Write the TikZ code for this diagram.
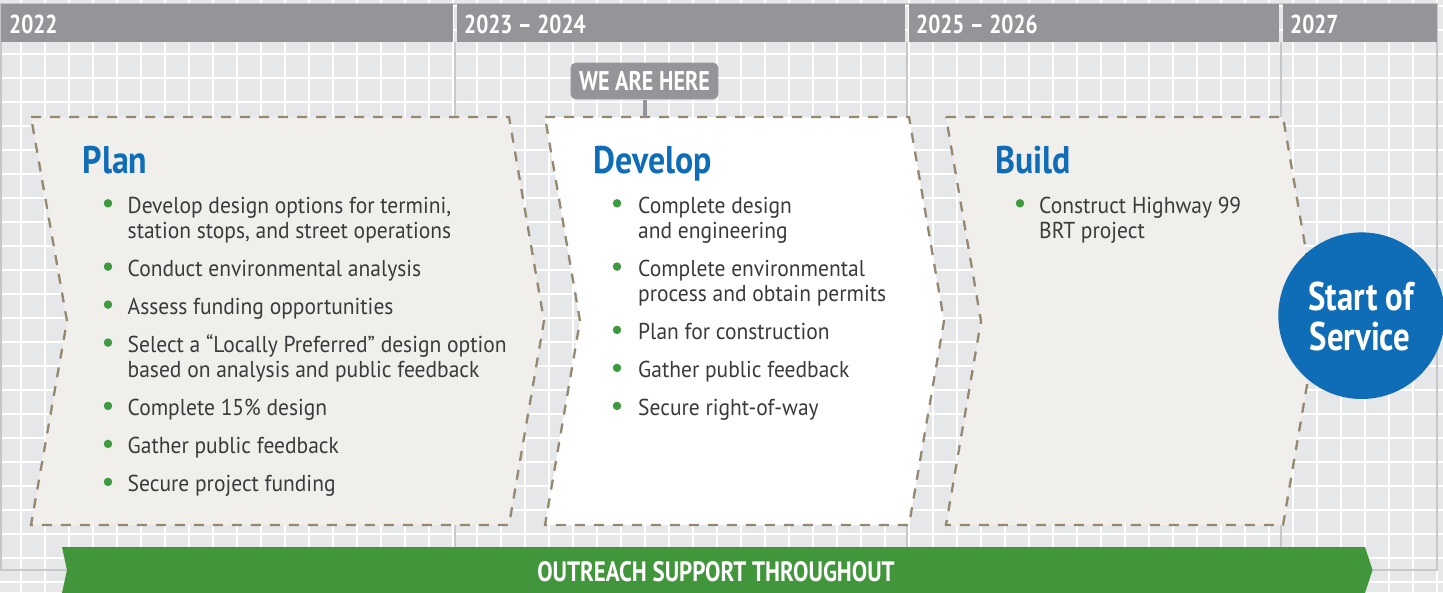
\documentclass[tikz,border=0pt]{standalone}
\usepackage{fontspec}
\setmainfont{PT Sans}[FakeStretch=0.935]
\newfontfamily\cond{PT Sans}[FakeStretch=0.82]
\newfontfamily\condt{PT Sans}[FakeStretch=0.88]
\definecolor{bg}{HTML}{E6E7E8}
\definecolor{hdr}{HTML}{939598}
\definecolor{frm}{HTML}{C6C7C9}
\definecolor{dashc}{HTML}{948872}
\definecolor{boxfill}{HTML}{F0EFEC}
\definecolor{blu}{HTML}{0F6DB7}
\definecolor{grn}{HTML}{41963B}
\definecolor{txt}{HTML}{3A3A3A}
\definecolor{bul}{HTML}{3E9A40}
\tikzset{
  hdrtxt/.style={anchor=base west, inner sep=0, text=white, font=\cond\bfseries\fontsize{26}{28}\selectfont},
  ttl/.style={anchor=base west, inner sep=0, text=blu, font=\condt\bfseries\fontsize{38.5}{40}\selectfont},
  item/.style={anchor=base west, inner sep=0, text=txt, font=\fontsize{23}{25}\selectfont},
  bulletdot/.style={circle, fill=bul, inner sep=0, minimum size=8.5pt},
  chev/.style={draw=dashc, line width=2.3pt, dash pattern=on 10pt off 9pt},
  thin/.style={white, line width=1.6pt},
  thick/.style={white, line width=2.6pt},
  frame/.style={frm, line width=2pt},
  bigtxt/.style={anchor=base, inner sep=0, text=white, font=\cond\bfseries\fontsize{40}{42}\selectfont},
}
\begin{document}
\begin{tikzpicture}[x=1pt,y=-1pt]
\useasboundingbox (0,0) rectangle (1443,592);
% background grid
\fill[bg] (0,0) rectangle (1443,592);
\foreach \i in {0,...,59} \draw[thin] ({21+24*\i},0) -- ({21+24*\i},592);
\foreach \j in {0,...,24} \draw[thin] (0,{6+24*\j}) -- (1443,{6+24*\j});
\foreach \i in {0,...,7} \draw[thick] ({45+192*\i},0) -- ({45+192*\i},592);
\foreach \j in {126,318,510} \draw[thick] (0,\j) -- (1443,\j);
% frame and dividers
\draw[frame] (1,4) rectangle (1437,570);
\draw[frame] (455,42) -- (455,570);
\draw[frame] (907,42) -- (907,570);
\draw[frame] (1281,42) -- (1281,570);
% header
\fill[hdr] (1,4) rectangle (453,42);
\fill[hdr] (457,4) rectangle (905,42);
\fill[hdr] (909,4) rectangle (1279,42);
\fill[hdr] (1283,4) rectangle (1437,42);
\node[hdrtxt] (y1) at (9,33.3) {2022};
\node[hdrtxt] (y2) at (464,33.3) {2023 – 2024};
\node[hdrtxt] (y3) at (916,33.3) {2025 – 2026};
\node[hdrtxt] (y4) at (1290,33.3) {2027};
% chevrons
\fill[boxfill] (31,117) -- (509,117) -- (544,321) -- (509,525) -- (31,525) -- (67,321) -- cycle;
\draw[chev] (31,117) -- (509,117) -- (544,321) -- (509,525) -- (31,525) -- (67,321) -- cycle;
\fill[white] (545,117) -- (909,117) -- (944,321) -- (909,525) -- (545,525) -- (580,321) -- cycle;
\draw[chev] (545,117) -- (909,117) -- (944,321) -- (909,525) -- (545,525) -- (580,321) -- cycle;
\fill[boxfill] (946,117) -- (1283,117) -- (1318,321) -- (1283,525) -- (946,525) -- (981,321) -- cycle;
\draw[chev] (946,117) -- (1283,117) -- (1318,321) -- (1283,525) -- (946,525) -- (981,321) -- cycle;
\coordinate (devtop) at (644.5,117);
% we are here
\node[fill=hdr, rounded corners=5pt, minimum width=147.6pt, minimum height=36.6pt, inner sep=0,
  text=white, font=\cond\bfseries\fontsize{27}{29}\selectfont] (we) at (644.5,81) {WE ARE HERE};
\draw[hdr, line width=4pt] (we.south) -- (devtop);
% titles
\node[ttl] (tplan) at (82.5,173.3) {Plan};
\node[ttl] (tdev) at (593.5,173.3) {Develop};
\node[ttl] (tbuild) at (995,173.3) {Build};
% plan items
\node[bulletdot] (pb1) at (108,203.3) {};
\node[item] (p1a) at (127.5,213.3) {Develop design options for termini,};
\node[item] (p1b) at (127.5,238.6) {station stops, and street operations};
\node[bulletdot] (pb2) at (108,266.6) {};
\node[item] (p2) at (127.5,276.6) {Conduct environmental analysis};
\node[bulletdot] (pb3) at (108,304.6) {};
\node[item] (p3) at (127.5,314.6) {Assess funding opportunities};
\node[bulletdot] (pb4) at (108,342.6) {};
\node[item] (p4a) at (127.5,352.6) {Select a “Locally Preferred” design option};
\node[item] (p4b) at (127.5,377.9) {based on analysis and public feedback};
\node[bulletdot] (pb5) at (108,405.9) {};
\node[item] (p5) at (127.5,415.9) {Complete 15\% design};
\node[bulletdot] (pb6) at (108,443.9) {};
\node[item] (p6) at (127.5,453.9) {Gather public feedback};
\node[bulletdot] (pb7) at (108,481.9) {};
\node[item] (p7) at (127.5,491.9) {Secure project funding};
% develop items
\node[bulletdot] (db1) at (617,203.3) {};
\node[item] (d1a) at (638,213.3) {Complete design};
\node[item] (d1b) at (638,238.6) {and engineering};
\node[bulletdot] (db2) at (617,266.6) {};
\node[item] (d2a) at (638,276.6) {Complete environmental};
\node[item] (d2b) at (638,301.9) {process and obtain permits};
\node[bulletdot] (db3) at (617,329.9) {};
\node[item] (d3) at (638,339.9) {Plan for construction};
\node[bulletdot] (db4) at (617,367.9) {};
\node[item] (d4) at (638,377.9) {Gather public feedback};
\node[bulletdot] (db5) at (617,405.9) {};
\node[item] (d5) at (638,415.9) {Secure right-of-way};
% build items
\node[bulletdot] (bb1) at (1020,203.3) {};
\node[item] (b1a) at (1039,213.3) {Construct Highway 99};
\node[item] (b1b) at (1039,238.6) {BRT project};
% start of service
\node[circle, fill=blu, minimum size=166.6pt, inner sep=0] (sos) at (1361.6,315.7) {};
\node[bigtxt] (sos1) at (1361,310.7) {Start of};
\node[bigtxt] (sos2) at (1360,350) {Service};
% outreach bar
\fill[grn] (62,547) -- (1365,547) -- (1372.5,570) -- (1365,593) -- (62,593) -- (67,570) -- cycle;
\node[anchor=base, inner sep=0, text=white, font=\cond\bfseries\fontsize{28}{30}\selectfont] (outreach) at (716,581.5) {OUTREACH SUPPORT THROUGHOUT};
\end{tikzpicture}
\end{document}
